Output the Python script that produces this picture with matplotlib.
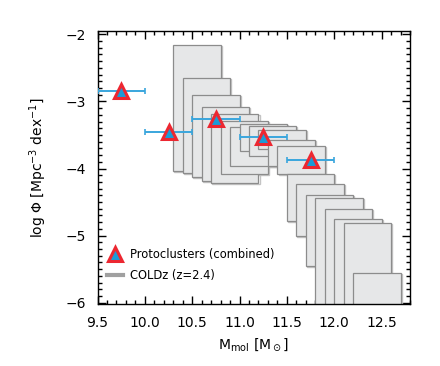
import numpy as np
import matplotlib
matplotlib.use('Agg')
import matplotlib.pyplot as plt
from matplotlib.lines import Line2D
from matplotlib.ticker import MultipleLocator

plt.rcParams['font.family'] = ['DejaVu Sans']
plt.rcParams['mathtext.fontset'] = 'dejavusans'

# COLDz (z=2.4) boxes: mass bin edges and log phi range
coldz_mass_lo = [10.3, 10.4, 10.5, 10.6, 10.7, 10.8, 10.9, 11.0, 11.1, 11.2,
                 11.3, 11.4, 11.5, 11.6, 11.7, 11.8, 11.9, 12.0, 12.1, 12.2]
coldz_mass_hi = [10.8, 10.9, 11.0, 11.1, 11.2, 11.3, 11.4, 11.5, 11.6, 11.7,
                 11.8, 11.9, 12.0, 12.1, 12.2, 12.3, 12.4, 12.5, 12.6, 12.7]
coldz_phi_hi = [-2.16, -2.65, -2.91, -3.09, -3.19, -3.29, -3.38, -3.34, -3.36, -3.42,
                -3.57, -3.67, -4.08, -4.23, -4.39, -4.44, -4.60, -4.75, -4.81, -5.56]
coldz_phi_lo = [-4.03, -4.07, -4.12, -4.19, -4.22, -4.08, -3.96, -3.74, -3.81, -3.71,
                -3.97, -4.08, -4.78, -5.00, -5.45, -7.0, -7.0, -7.0, -7.0, -7.0]

# protoclusters (combined)
pc_mass = [9.75, 10.25, 10.75, 11.25, 11.75]
pc_mass_err = [0.25, 0.25, 0.25, 0.25, 0.25]
pc_phi = [-2.84, -3.45, -3.265, -3.53, -3.88]

blue = '#1b9bd7'
red = '#ec2731'

fig = plt.figure(figsize=(4.4, 3.66), dpi=100)
ax = fig.add_axes([0.2216, 0.1694, 0.7102, 0.7459])

lo = np.array(coldz_mass_lo)
hi = np.array(coldz_mass_hi)
plo = np.array(coldz_phi_lo)
phi_hi = np.array(coldz_phi_hi)
# light shadow edge then the box itself
ax.bar(lo + 0.012, phi_hi - plo, bottom=plo - 0.015, width=hi - lo, align='edge',
       color='none', edgecolor='#c4c4c4', linewidth=1.0, zorder=2)
ax.bar(lo, phi_hi - plo, bottom=plo, width=hi - lo, align='edge',
       color='#e6e7e8', edgecolor='#8c8c8c', linewidth=0.9, zorder=2)

eb = ax.errorbar(pc_mass, pc_phi, xerr=pc_mass_err, fmt='none', ecolor='#3aa6dd',
                 elinewidth=1.4, capsize=2.5, capthick=1.2, zorder=4)
for cl in eb[1]:
    cl.set_color('#e8505a')
ax.plot(pc_mass, pc_phi, ls='none', marker='^', ms=10.5, mfc=blue, mec=red,
        mew=2.2, zorder=5)

ax.set_xlim(9.5, 12.8)
ax.set_ylim(-6.02, -1.95)
ax.xaxis.set_major_locator(MultipleLocator(0.5))
ax.xaxis.set_minor_locator(MultipleLocator(0.1))
ax.yaxis.set_major_locator(MultipleLocator(1))
ax.yaxis.set_minor_locator(MultipleLocator(0.1))
ax.xaxis.set_major_formatter(plt.FuncFormatter(lambda v, p: f'{v:.1f}'))
ax.yaxis.set_major_formatter(plt.FuncFormatter(lambda v, p: f'\u2212{abs(v):.0f}'))
ax.tick_params(which='both', direction='in', top=True, right=True, labelsize=10,
               width=1.0, colors='black')
ax.tick_params(which='major', length=6)
ax.tick_params(axis='x', which='major', pad=9)
ax.tick_params(axis='y', which='major', pad=8)
ax.tick_params(which='minor', length=3)
for s in ax.spines.values():
    s.set_linewidth(1.0)

ax.set_xlabel(r'M$_{\rm mol}$ [M$_\odot$]', fontsize=10, labelpad=4)
ax.set_ylabel(r'log $\Phi$ [Mpc$^{-3}$ dex$^{-1}$]', fontsize=10, labelpad=12)

handles = [Line2D([], [], ls='none', marker='^', ms=10.5, mfc=blue, mec=red, mew=2.2),
           Line2D([], [], color='#a0a0a0', lw=3)]
ax.legend(handles, ['Protoclusters (combined)', 'COLDz (z=2.4)'], loc='lower left',
          bbox_to_anchor=(0.0, 0.045), frameon=False, fontsize=8.3,
          handlelength=1.4, handletextpad=0.6, borderaxespad=0.4, labelspacing=0.75)

fig.savefig('out.png', dpi=100)
